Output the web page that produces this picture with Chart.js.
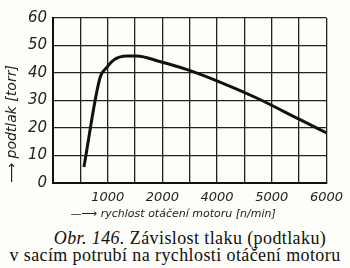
<!DOCTYPE html>
<html>
<head>
<meta charset="utf-8">
<script src="https://cdn.jsdelivr.net/npm/chart.js@4"></script>
<style>
  html, body { margin: 0; padding: 0; background: #fdfdf9; }
  #wrap { position: relative; width: 350px; height: 268px; overflow: hidden; }
  #chartBox { position: absolute; left: 0; top: 0; width: 350px; height: 225px; }
  .cap { position: absolute; left: 0; width: 350px; text-align: center;
         font-family: "Liberation Serif", "DejaVu Serif", serif; font-size: 18px; letter-spacing: 0.4px; color: #111; white-space: nowrap; }
</style>
</head>
<body>
<div id="wrap">
  <div id="chartBox"><canvas id="myChart"></canvas></div>
  <div class="cap" style="top:228px; padding-left:30px; width:320px"><i>Obr. 146.</i> Závislost tlaku (podtlaku)</div>
  <div class="cap" style="top:245px">v sacím potrubí na rychlosti otáčení motoru</div>
</div>
<script>
// hodnoty (x v jednotkach osy, popisky os jsou jak jsou vytistene)
const otacky = [565, 856, 983, 1130, 1348, 1530, 1950, 2440, 3040, 3715, 4500, 5045];
const podtlak = [5.8, 38, 42, 45, 46.2, 46.2, 44.2, 41.3, 36.8, 31, 23.2, 17.8];
const xTicks = [1000, 2000, 3000, 4000, 5000];
const xTickLabels = ["1000", "2000", "4000", "5000", "6000"];

const tickFont = {family: "DejaVu Sans", style: "italic", size: 13};

new Chart("myChart", {
    type: "line",
    data: {
        datasets: [{
            data: otacky.map((x, i) => ({x: x, y: podtlak[i]})),
            borderColor: "#111",
            borderWidth: 3,
            pointRadius: 0,
            cubicInterpolationMode: "monotone",
            fill: false
        }]
    },
    options: {
        responsive: true,
        maintainAspectRatio: false,
        animation: false,
        layout: {padding: {top: 18, right: 21, left: 0, bottom: 0}},
        plugins: {legend: {display: false}, tooltip: {enabled: false}},
        scales: {
            x: {
                type: "linear",
                min: 0, max: 5000,
                grid: {color: "#222", lineWidth: 1.3, drawTicks: false},
                border: {color: "#111", width: 2},
                ticks: {
                    stepSize: 500,
                    autoSkip: false,
                    maxRotation: 0,
                    padding: 7,
                    color: "#222",
                    font: tickFont,
                    callback: v => {
                        const i = xTicks.indexOf(v);
                        return i >= 0 ? xTickLabels[i] : "";
                    }
                },
                title: {
                    display: true,
                    text: "     —⟶ rychlost otáčení motoru [n/min]",
                    align: "start",
                    color: "#222",
                    font: {family: "DejaVu Sans", style: "italic", size: 11},
                    padding: {top: 0}
                },
                afterFit: s => { s.height = 42; }
            },
            y: {
                min: 0, max: 60,
                grid: {color: "#222", lineWidth: 1.3, drawTicks: false},
                border: {color: "#111", width: 2},
                ticks: {
                    stepSize: 10,
                    padding: 6,
                    color: "#222",
                    font: {family: "DejaVu Sans", style: "italic", size: 15}
                },
                title: {
                    display: true,
                    text: "⟶ podtlak [torr]",
                    align: "start",
                    color: "#222",
                    font: {family: "DejaVu Sans", style: "italic", size: 14},
                    padding: {bottom: 1}
                },
                afterFit: s => { s.width = 53; }
            }
        }
    }
});
</script>
</body>
</html>
